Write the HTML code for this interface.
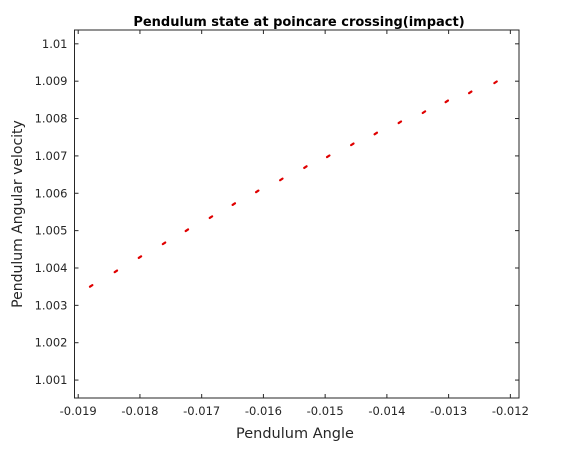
<!DOCTYPE html>
<html><head><meta charset="utf-8"><style>
body{margin:0;background:#fff;}
svg text{font-family:"DejaVu Sans","Liberation Sans",sans-serif;fill:#262626;}
</style></head><body>
<svg id="chart" width="570" height="450" xmlns="http://www.w3.org/2000/svg">
<rect width="570" height="450" fill="#fff"/>
<text x="299" y="26" text-anchor="middle" font-size="13" font-weight="bold" fill="#000" style="fill:#000">Pendulum state at poincare crossing(impact)</text>
<text x="295" y="438" text-anchor="middle" font-size="14.5">Pendulum Angle</text>
<text transform="translate(22,214) rotate(-90)" text-anchor="middle" font-size="14">Pendulum Angular velocity</text>
<g id="axes"></g>
<g id="points"></g>
</svg>
<script>
const xTicks=[-0.019,-0.018,-0.017,-0.016,-0.015,-0.014,-0.013,-0.012];
const xTickLabels=["-0.019","-0.018","-0.017","-0.016","-0.015","-0.014","-0.013","-0.012"];
const yTicks=[1.001,1.002,1.003,1.004,1.005,1.006,1.007,1.008,1.009,1.01];
const yTickLabels=["1.001","1.002","1.003","1.004","1.005","1.006","1.007","1.008","1.009","1.01"];
const angle=[-0.01879,-0.01839,-0.01800,-0.01761,-0.01724,-0.01685,-0.01648,-0.01610,-0.01571,-0.01532,-0.01495,-0.01456,-0.01418,-0.01379,-0.01340,-0.01303,-0.01265,-0.01224];
const velocity=[1.00352,1.00391,1.00429,1.00466,1.00501,1.00536,1.00571,1.00605,1.00637,1.00670,1.00699,1.00731,1.00760,1.00790,1.00817,1.00846,1.00870,1.00897];
const L=74.5,R=519,T=30,B=398;
const xmin=-0.01906,xmax=-0.01186,ymin=1.00052,ymax=1.01037;
const sx=v=>L+(v-xmin)/(xmax-xmin)*(R-L);
const sy=v=>B-(v-ymin)/(ymax-ymin)*(B-T);
const NS="http://www.w3.org/2000/svg";
const ax=document.getElementById('axes'),pg=document.getElementById('points');
function mk(t,a,p){const e=document.createElementNS(NS,t);for(const k in a)e.setAttribute(k,a[k]);p.appendChild(e);return e;}
const fr=mk('rect',{x:L,y:T,width:R-L,height:B-T,fill:'none',stroke:'#262626','stroke-width':1},ax);


xTicks.forEach((v,i)=>{const x=sx(v);
mk('line',{x1:x,x2:x,y1:B,y2:B-4,stroke:'#262626'},ax);
mk('line',{x1:x,x2:x,y1:T,y2:T+4,stroke:'#262626'},ax);
const t=mk('text',{x:x,y:B+17,'text-anchor':'middle','font-size':11.5},ax);t.textContent=xTickLabels[i];

});
yTicks.forEach((v,i)=>{const y=sy(v);
mk('line',{x1:L,x2:L+4,y1:y,y2:y,stroke:'#262626'},ax);
mk('line',{x1:R,x2:R-4,y1:y,y2:y,stroke:'#262626'},ax);
const t=mk('text',{x:L-7,y:y+4,'text-anchor':'end','font-size':11.5},ax);t.textContent=yTickLabels[i];

});
angle.forEach((a,i)=>{const x=sx(a),y=sy(velocity[i]);
const p=mk('line',{x1:x-1.2,y1:y+0.8,x2:x+1.2,y2:y-0.8,stroke:'#e00000','stroke-width':2.2,'stroke-linecap':'round'},pg);

});
</script>
</body></html>
